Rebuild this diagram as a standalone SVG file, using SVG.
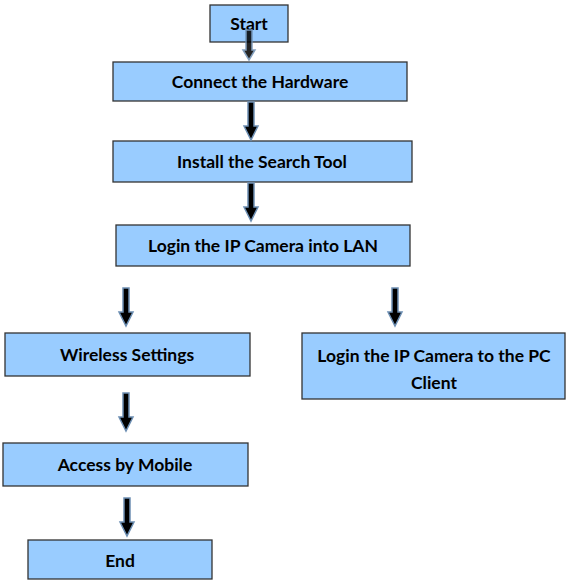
<svg xmlns="http://www.w3.org/2000/svg" width="570" height="586" viewBox="0 0 570 586">
<defs>
<style>
.box{fill:#99CCFF;stroke:#333;stroke-width:1.3}
.t{font-family:Lato,"Open Sans","Liberation Sans",sans-serif;font-weight:bold;font-size:17.5px;fill:#000;text-anchor:middle}
.arr{fill:#000;stroke:#6d8fb3;stroke-width:1.5;stroke-linejoin:miter}
</style>
<path id="a" d="M-3,0 H3 V24 H7 L0,38 L-7,24 H-3 Z"/>
</defs>
<rect width="570" height="586" fill="#fff"/>
<g id="start"><rect class="box" x="210" y="5" width="78" height="37"/><text class="t" x="249" y="30">Start</text></g>
<g id="connect"><rect class="box" x="113" y="62" width="294" height="39"/><text class="t" x="260" y="88">Connect the Hardware</text></g>
<g id="install"><rect class="box" x="113" y="141" width="299" height="41"/><text class="t" x="262" y="168">Install the Search Tool</text></g>
<g id="login"><rect class="box" x="116" y="225" width="294" height="41"/><text class="t" x="263" y="252">Login the IP Camera into LAN</text></g>
<g id="wireless"><rect class="box" x="5" y="333" width="245" height="43"/><text class="t" x="127" y="361">Wireless Settings</text></g>
<g id="pc"><rect class="box" x="302" y="333" width="263" height="66"/><text class="t" x="434" y="362">Login the IP Camera to the PC</text><text class="t" x="434" y="389">Client</text></g>
<g id="mobile"><rect class="box" x="3" y="443" width="245" height="43"/><text class="t" x="125" y="471">Access by Mobile</text></g>
<g id="end"><rect class="box" x="28" y="540" width="184" height="39"/><text class="t" x="120" y="567">End</text></g>
<g id="connectors">
<path class="arr" d="M246,30 H252 V50 H255 L249,60 L243,50 H246 Z" opacity="0.85"/>
<use class="arr" href="#a" transform="translate(251,102)"/>
<use class="arr" href="#a" transform="translate(251,183)"/>
<use class="arr" href="#a" transform="translate(126,288)"/>
<use class="arr" href="#a" transform="translate(395,288)"/>
<use class="arr" href="#a" transform="translate(126,393)"/>
<use class="arr" href="#a" transform="translate(127,498)"/>
</g>
</svg>
